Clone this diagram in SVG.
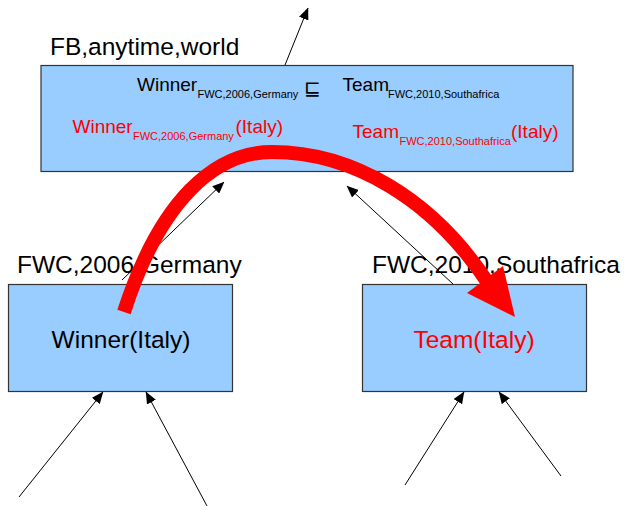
<svg xmlns="http://www.w3.org/2000/svg" width="624" height="507" viewBox="0 0 624 507">
  <style>
    .box { fill: #99ccff; stroke: #333333; stroke-width: 1.2; }
    .t { font-family: "Liberation Sans", Arial, sans-serif; fill: #000000; }
    .red { fill: #ff0000; }
    .lbl { font-size: 24.5px; }
    .main { font-size: 19px; }
    .sub { font-size: 11px; }
    .conn { stroke: #000000; stroke-width: 1; fill: none; marker-end: url(#ah); }
  </style>
  <defs>
    <marker id="ah" viewBox="0 0 12 10" refX="11.5" refY="5" markerWidth="12" markerHeight="10" markerUnits="userSpaceOnUse" orient="auto">
      <path d="M0,0 L12,5 L0,10 Z" fill="#000000"/>
    </marker>
  </defs>

  <!-- context: FB, anytime, world -->
  <g id="node-world">
    <text class="t lbl" x="50" y="55">FB,anytime,world</text>
    <rect class="box" x="41" y="65.5" width="532" height="106"/>
    <text class="t main" x="137" y="90.5">Winner</text>
    <text class="t sub" x="197.5" y="98.3">FWC,2006,Germany</text>
    <text class="t" x="304" y="95" style="font-family: 'DejaVu Sans', sans-serif; font-size: 20px;">⊑</text>
    <text class="t main" x="342.5" y="90.5">Team</text>
    <text class="t sub" x="388" y="98.3">FWC,2010,Southafrica</text>
    <text class="t main red" x="72.5" y="132.7">Winner</text>
    <text class="t sub red" x="133" y="140.3">FWC,2006,Germany</text>
    <text class="t main red" x="235.5" y="132.7">(Italy)</text>
    <text class="t main red" x="352.5" y="138">Team</text>
    <text class="t sub red" x="399.5" y="145.3">FWC,2010,Southafrica</text>
    <text class="t main red" x="511" y="138">(Italy)</text>
  </g>

  <!-- context: FWC, 2006, Germany -->
  <g id="node-germany">
    <text class="t lbl" x="17" y="272.7">FWC,2006,Germany</text>
    <rect class="box" x="8.5" y="284.5" width="224" height="107"/>
    <text class="t lbl" x="121" y="348" text-anchor="middle">Winner(Italy)</text>
  </g>

  <!-- context: FWC, 2010, Southafrica -->
  <g id="node-southafrica">
    <text class="t lbl" x="372" y="272.7">FWC,2010,Southafrica</text>
    <rect class="box" x="362.5" y="284.5" width="224" height="107"/>
    <text class="t lbl red" x="474" y="348" text-anchor="middle">Team(Italy)</text>
  </g>

  <!-- lifting connectors -->
  <g id="connectors">
    <line class="conn" x1="285" y1="65" x2="308" y2="8"/>
    <line class="conn" x1="122" y1="280" x2="224" y2="182"/>
    <line class="conn" x1="453" y1="284" x2="347" y2="186"/>
    <line class="conn" x1="19" y1="497" x2="103" y2="392"/>
    <line class="conn" x1="207" y1="506" x2="146" y2="392"/>
    <line class="conn" x1="405" y1="485" x2="464" y2="392"/>
    <line class="conn" x1="561" y1="476" x2="499" y2="392"/>
  </g>

  <!-- transfer arc -->
  <g id="transfer">
    <path d="M124,312 C160,200 215,152 272,152 C352,152 432,198 488,283" fill="none" stroke="#ff0000" stroke-width="14"/>
    <polygon points="515,317 467,293 503,266" fill="#ff0000"/>
  </g>
</svg>
